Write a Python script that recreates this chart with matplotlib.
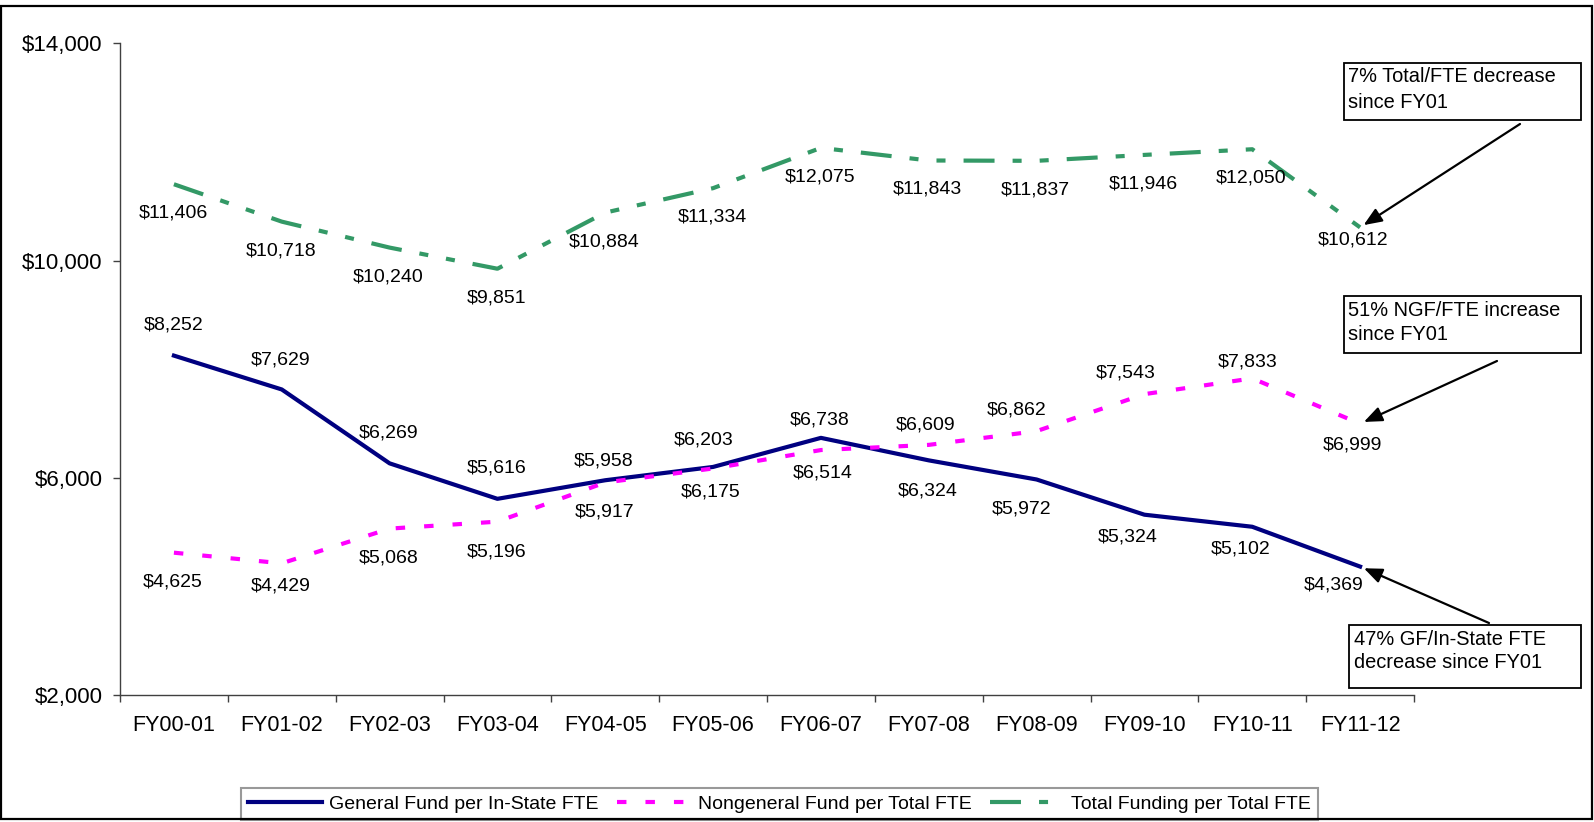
import numpy as np
import matplotlib
matplotlib.use('Agg')
import matplotlib.pyplot as plt
from matplotlib.patches import Rectangle
from matplotlib.ticker import FuncFormatter

plt.rcParams['font.family'] = ['Liberation Sans', 'DejaVu Sans']
plt.rcParams['lines.scale_dashes'] = False

# ---------------- data ----------------
categories = ["FY00-01", "FY01-02", "FY02-03", "FY03-04", "FY04-05", "FY05-06",
              "FY06-07", "FY07-08", "FY08-09", "FY09-10", "FY10-11", "FY11-12"]
gf_per_instate_fte = [8252, 7629, 6269, 5616, 5958, 6203, 6738, 6324, 5972, 5324, 5102, 4369]
ngf_per_total_fte = [4625, 4429, 5068, 5196, 5917, 6175, 6514, 6609, 6862, 7543, 7833, 6999]
total_per_total_fte = [11406, 10718, 10240, 9851, 10884, 11334, 12075, 11843, 11837, 11946, 12050, 10612]
series_names = ["General Fund per In-State FTE", "Nongeneral Fund per Total FTE",
                "Total Funding per Total FTE"]
y_ticks = [2000, 6000, 10000, 14000]
callout_texts = [["7% Total/FTE decrease", "since FY01"],
                 ["51% NGF/FTE increase", "since FY01"],
                 ["47% GF/In-State FTE", "decrease since FY01"]]

# label offsets in pixels (dx, dy) ; dy positive = downward
gf_off = [(0, -31), (-1, -29), (-1, -30), (-1, -31), (-2, -19), (-9, -27),
          (-1, -18), (-1, 31), (-15, 30), (-17, 22), (-12, 22), (-26, 18)]
ngf_off = [(-1, 29), (-1, 23), (-1, 29), (-1, 30), (-1, 30), (-2, 24),
           (2, 23), (-3, -20), (-20, -21), (-19, -21), (-5, -16), (-8, 21)]
tot_off = [(-1, 29)] * 11 + [(-7, 13)]

W, H = 1594, 822
fig = plt.figure(figsize=(W / 100, H / 100), dpi=100)
ax = fig.add_axes([120 / W, 1 - 695.3 / H, (1414 - 120) / W, (695.3 - 43.3) / H])

x = np.arange(len(categories))
l1, = ax.plot(x, gf_per_instate_fte, color='#000080', lw=3, solid_joinstyle='round',
              label=series_names[0], zorder=3)
l2, = ax.plot(x, ngf_per_total_fte, color='#FF00FF', lw=3, dashes=(6.8, 13.7),
              label=series_names[1], zorder=4)
l3, = ax.plot(x, total_per_total_fte, color='#339966', lw=3,
              dashes=(22.3, 13, 6.5, 13, 6.5, 13), label=series_names[2], zorder=3)

ax.set_xlim(-0.5, len(categories) - 0.5)
ax.set_ylim(y_ticks[0], y_ticks[-1])
ax.set_yticks(y_ticks)
ax.yaxis.set_major_formatter(FuncFormatter(lambda v, p: f"${v:,.0f}"))
ax.set_xticks(np.arange(-0.5, len(categories), 1.0))
ax.set_xticklabels([])
ax.set_xticks(x, minor=True)
ax.set_xticklabels(categories, minor=True)

axis_color = '#404040'
for s in ['top', 'right']:
    ax.spines[s].set_visible(False)
for s in ['left', 'bottom']:
    ax.spines[s].set_color(axis_color)
    ax.spines[s].set_linewidth(1.0)
ax.tick_params(axis='x', which='major', length=4.7, width=1.0, color=axis_color, direction='out')
ax.tick_params(axis='x', which='minor', length=0, pad=14.4, labelsize=15.5)
ax.tick_params(axis='y', which='major', length=4.7, width=1.0, color=axis_color,
               direction='out', pad=8.0, labelsize=16)

# data labels
for vals, offs in ((gf_per_instate_fte, gf_off), (ngf_per_total_fte, ngf_off),
                   (total_per_total_fte, tot_off)):
    for i, (v, (dx, dy)) in enumerate(zip(vals, offs)):
        ax.annotate(f"${v:,}", (x[i], v), xytext=(dx, -dy), textcoords='offset pixels',
                    ha='center', va='center', fontsize=14, color='black', zorder=5)

# callout boxes (pixel layout, top-left origin)
boxes = [(1344, 63, 1581, 120), (1344, 296, 1581, 353), (1349, 625, 1581, 688)]
text_pos = [(1348, 77, 102), (1348, 310, 334), (1354, 639, 663)]
arrow_start = [(1520, 124), (1497, 361), (1489, 623)]
targets = [total_per_total_fte, ngf_per_total_fte, gf_per_instate_fte]

for (x0, y0, x1, y1), (tx, ty1, ty2), lines, (ax0, ay0), series in zip(
        boxes, text_pos, callout_texts, arrow_start, targets):
    fig.add_artist(Rectangle((x0 / W, 1 - y1 / H), (x1 - x0) / W, (y1 - y0) / H,
                             transform=fig.transFigure, fill=False, ec='black', lw=1.3))
    fig.text(tx / W, 1 - ty1 / H, lines[0], fontsize=14.4, ha='left', va='center')
    fig.text(tx / W, 1 - ty2 / H, lines[1], fontsize=14.4, ha='left', va='center')
    ax.annotate('', xy=(x[-1], series[-1]), xycoords='data',
                xytext=(ax0, H - ay0), textcoords='figure pixels',
                arrowprops=dict(arrowstyle='-|>,head_length=1.1,head_width=0.45',
                                color='black', lw=1.6, shrinkA=0, shrinkB=3),
                annotation_clip=False)

leg = ax.legend(handles=[l1, l2, l3], loc='lower left',
                bbox_to_anchor=(241 / W, 2 / H), bbox_transform=fig.transFigure,
                ncol=3, fontsize=14, frameon=True, fancybox=False, edgecolor='#808080',
                borderaxespad=0, borderpad=0.38, handlelength=3.8, handletextpad=0.35,
                columnspacing=0.95)
leg.get_frame().set_linewidth(1.5)

# outer chart border
fig.add_artist(Rectangle((1 / W, 3 / H), 1591 / W, (819 - 6) / H,
                         transform=fig.transFigure, fill=False, ec='black', lw=1.6, zorder=10))

fig.savefig('out.png', dpi=100, facecolor='white')
